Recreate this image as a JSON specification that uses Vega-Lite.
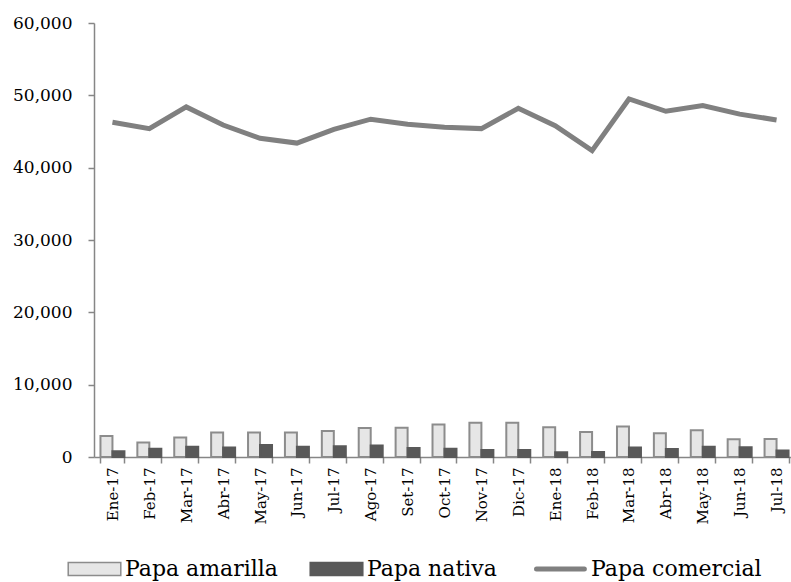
{
  "$schema": "https://vega.github.io/schema/vega-lite/v6.json",
  "width": 701,
  "height": 434,
  "autosize": {"type": "none"},
  "padding": {"left": 94, "top": 23, "right": 0, "bottom": 125},
  "background": "white",
  "config": {"view": {"stroke": null}, "font": "DejaVu Serif"},
  "datasets": {
    "bars": [
      {"mes": "Ene-17", "serie": "Papa amarilla", "valor": 2900}, {"mes": "Ene-17", "serie": "Papa nativa", "valor": 800},
      {"mes": "Feb-17", "serie": "Papa amarilla", "valor": 2000}, {"mes": "Feb-17", "serie": "Papa nativa", "valor": 1150},
      {"mes": "Mar-17", "serie": "Papa amarilla", "valor": 2700}, {"mes": "Mar-17", "serie": "Papa nativa", "valor": 1400},
      {"mes": "Abr-17", "serie": "Papa amarilla", "valor": 3400}, {"mes": "Abr-17", "serie": "Papa nativa", "valor": 1300},
      {"mes": "May-17", "serie": "Papa amarilla", "valor": 3400}, {"mes": "May-17", "serie": "Papa nativa", "valor": 1650},
      {"mes": "Jun-17", "serie": "Papa amarilla", "valor": 3400}, {"mes": "Jun-17", "serie": "Papa nativa", "valor": 1400},
      {"mes": "Jul-17", "serie": "Papa amarilla", "valor": 3600}, {"mes": "Jul-17", "serie": "Papa nativa", "valor": 1500},
      {"mes": "Ago-17", "serie": "Papa amarilla", "valor": 4000}, {"mes": "Ago-17", "serie": "Papa nativa", "valor": 1600},
      {"mes": "Set-17", "serie": "Papa amarilla", "valor": 4050}, {"mes": "Set-17", "serie": "Papa nativa", "valor": 1250},
      {"mes": "Oct-17", "serie": "Papa amarilla", "valor": 4500}, {"mes": "Oct-17", "serie": "Papa nativa", "valor": 1150},
      {"mes": "Nov-17", "serie": "Papa amarilla", "valor": 4750}, {"mes": "Nov-17", "serie": "Papa nativa", "valor": 970},
      {"mes": "Dic-17", "serie": "Papa amarilla", "valor": 4750}, {"mes": "Dic-17", "serie": "Papa nativa", "valor": 970},
      {"mes": "Ene-18", "serie": "Papa amarilla", "valor": 4100}, {"mes": "Ene-18", "serie": "Papa nativa", "valor": 650},
      {"mes": "Feb-18", "serie": "Papa amarilla", "valor": 3450}, {"mes": "Feb-18", "serie": "Papa nativa", "valor": 700},
      {"mes": "Mar-18", "serie": "Papa amarilla", "valor": 4200}, {"mes": "Mar-18", "serie": "Papa nativa", "valor": 1300},
      {"mes": "Abr-18", "serie": "Papa amarilla", "valor": 3300}, {"mes": "Abr-18", "serie": "Papa nativa", "valor": 1100},
      {"mes": "May-18", "serie": "Papa amarilla", "valor": 3700}, {"mes": "May-18", "serie": "Papa nativa", "valor": 1400},
      {"mes": "Jun-18", "serie": "Papa amarilla", "valor": 2450}, {"mes": "Jun-18", "serie": "Papa nativa", "valor": 1350},
      {"mes": "Jul-18", "serie": "Papa amarilla", "valor": 2500}, {"mes": "Jul-18", "serie": "Papa nativa", "valor": 900}
    ],
    "linea": [
      {"mes": "Ene-17", "valor": 46270}, {"mes": "Feb-17", "valor": 45400}, {"mes": "Mar-17", "valor": 48400},
      {"mes": "Abr-17", "valor": 45900}, {"mes": "May-17", "valor": 44060}, {"mes": "Jun-17", "valor": 43400},
      {"mes": "Jul-17", "valor": 45300}, {"mes": "Ago-17", "valor": 46700}, {"mes": "Set-17", "valor": 46000},
      {"mes": "Oct-17", "valor": 45600}, {"mes": "Nov-17", "valor": 45400}, {"mes": "Dic-17", "valor": 48200},
      {"mes": "Ene-18", "valor": 45800}, {"mes": "Feb-18", "valor": 42350}, {"mes": "Mar-18", "valor": 49500},
      {"mes": "Abr-18", "valor": 47800}, {"mes": "May-18", "valor": 48600}, {"mes": "Jun-18", "valor": 47400},
      {"mes": "Jul-18", "valor": 46600}
    ]
  },
  "encoding": {
    "x": {
      "field": "mes", "type": "nominal", "title": null,
      "scale": {
        "domain": ["Ene-17","Feb-17","Mar-17","Abr-17","May-17","Jun-17","Jul-17","Ago-17","Set-17","Oct-17","Nov-17","Dic-17","Ene-18","Feb-18","Mar-18","Abr-18","May-18","Jun-18","Jul-18"],
        "paddingInner": 0.35, "paddingOuter": 0.175
      },
      "axis": {
        "tickBand": "extent", "labelAngle": 270, "labelFont": "DejaVu Serif", "labelFontSize": 15,
        "labelColor": "#000000", "domainColor": "#868686", "domainWidth": 1.5, "tickColor": "#868686",
        "tickWidth": 1.5, "tickSize": 6, "labelPadding": 4, "grid": false
      }
    },
    "y": {
      "field": "valor", "type": "quantitative", "title": null,
      "scale": {"domain": [0, 60000], "nice": false},
      "axis": {
        "values": [0, 10000, 20000, 30000, 40000, 50000, 60000], "format": ",.0f",
        "labelFont": "DejaVu Serif", "labelFontSize": 17, "labelColor": "#000000",
        "domainColor": "#868686", "domainWidth": 1.5, "tickColor": "#868686", "tickWidth": 1.5,
        "tickSize": 6, "labelPadding": 16, "grid": false
      }
    }
  },
  "layer": [
    {
      "data": {"name": "bars"},
      "mark": {"type": "bar", "strokeWidth": 2},
      "encoding": {
        "xOffset": {"field": "serie", "type": "nominal", "scale": {"domain": ["Papa amarilla", "Papa nativa"], "paddingInner": 0, "paddingOuter": 0}},
        "color": {
          "field": "serie", "type": "nominal",
          "scale": {"domain": ["Papa amarilla", "Papa nativa", "Papa comercial"], "range": ["#e6e6e6", "#595959", "#808080"]},
          "legend": {
            "title": null, "orient": "none", "direction": "horizontal", "legendX": 4, "legendY": 535,
            "padding": 0, "symbolSize": 3025, "labelFont": "DejaVu Serif", "labelFontSize": 22,
            "labelColor": "#000000", "labelOffset": 5, "columnPadding": 29, "labelLimit": 400,
            "encode": {
              "symbols": {
                "update": {
                  "shape": {"signal": "datum.value === 'Papa comercial' ? 'M-1.4,0 L0.34,0' : 'M-1.483,-0.236 L0.429,-0.236 L0.429,0.236 L-1.483,0.236 Z'"},
                  "fill": {"signal": "datum.value === 'Papa amarilla' ? '#e6e6e6' : (datum.value === 'Papa nativa' ? '#595959' : 'transparent')"},
                  "stroke": {"signal": "datum.value === 'Papa amarilla' ? '#8c8c8c' : (datum.value === 'Papa nativa' ? '#595959' : '#808080')"},
                  "strokeWidth": {"signal": "datum.value === 'Papa comercial' ? 5 : 1.5"},
                  "strokeCap": {"value": "round"},
                  "opacity": {"value": 1}
                }
              }
            }
          }
        },
        "stroke": {
          "field": "serie", "type": "nominal",
          "scale": {"domain": ["Papa amarilla", "Papa nativa"], "range": ["#8c8c8c", "#595959"]},
          "legend": null
        }
      }
    },
    {
      "data": {"name": "linea"},
      "mark": {"type": "line", "strokeWidth": 5, "color": "#808080"},
      "encoding": {}
    }
  ]
}
